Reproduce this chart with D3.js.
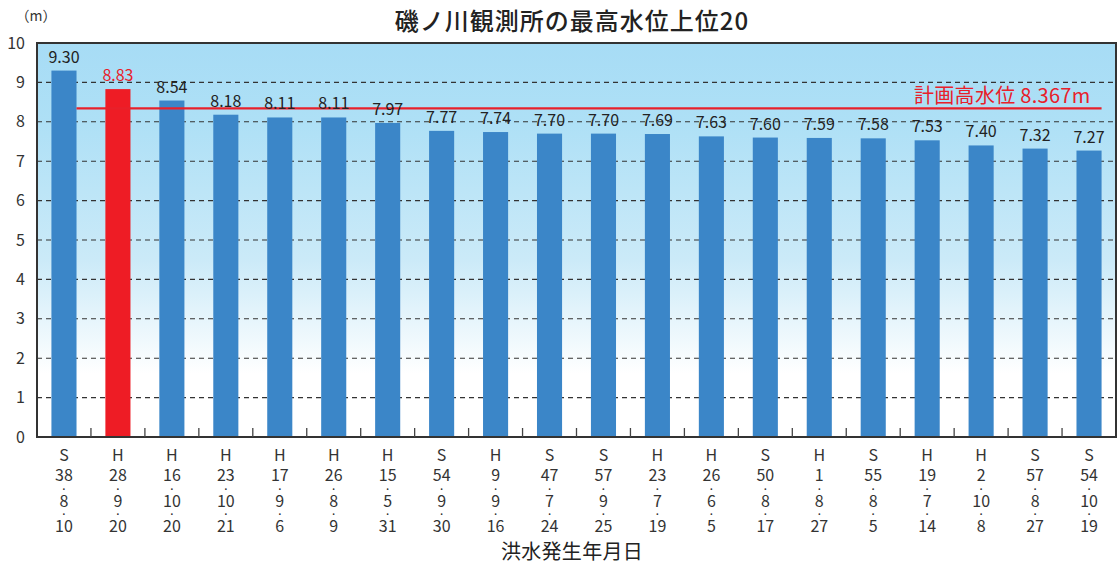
<!DOCTYPE html>
<html><head><meta charset="utf-8">
<script src="https://cdn.jsdelivr.net/npm/d3@7"></script>
<style>
html,body{margin:0;padding:0;background:#fff;}
svg{display:block;}
text{font-family:"Noto Sans CJK JP","Noto Sans",sans-serif;}
</style></head>
<body>
<svg id="chart" width="1120" height="565"></svg>
<script>
// ---- data ----
const eras   = ["S","H","H","H","H","H","H","S","H","S","S","H","H","S","H","S","H","H","S","S"];
const years  = ["38","28","16","23","17","26","15","54","9","47","57","23","26","50","1","55","19","2","57","54"];
const months = ["8","9","10","10","9","8","5","9","9","7","9","7","6","8","8","8","7","10","8","10"];
const days   = ["10","20","20","21","6","9","31","30","16","24","25","19","5","17","27","5","14","8","27","19"];
const values = [9.30,8.83,8.54,8.18,8.11,8.11,7.97,7.77,7.74,7.70,7.70,7.69,7.63,7.60,7.59,7.58,7.53,7.40,7.32,7.27];
const highlightIndex = 1;
const planLevel = 8.367;
const planLabel = "計画高水位 8.367m";
const yTicks = [0,1,2,3,4,5,6,7,8,9,10];
const title = "磯ノ川観測所の最高水位上位20";
const xTitle = "洪水発生年月日";
const yUnit = "（m）";

const svg = d3.select("#chart");
const L = 37, R = 1116, T = 43, B = 437;
const idx = d3.range(values.length);

const x = d3.scaleBand().domain(idx).range([L, R]).paddingInner(0.535).paddingOuter(0.2675);
const y = d3.scaleLinear().domain([0, 10]).range([B, T]);

// background gradient
const defs = svg.append("defs");
const grad = defs.append("linearGradient").attr("id","bg").attr("x1",0).attr("y1",0).attr("x2",0).attr("y2",1);
grad.append("stop").attr("offset","0%").attr("stop-color","#a7dcf5");
grad.append("stop").attr("offset","20%").attr("stop-color","#aee0f6");
grad.append("stop").attr("offset","55%").attr("stop-color","#cbeaf8");
grad.append("stop").attr("offset","84%").attr("stop-color","#ffffff");
grad.append("stop").attr("offset","100%").attr("stop-color","#ffffff");

svg.append("rect").attr("x", L).attr("y", T).attr("width", R - L).attr("height", B - T).attr("fill", "url(#bg)");

// gridlines
svg.append("g").selectAll("line").data(yTicks.filter(t => t > 0 && t < 10)).join("line")
  .attr("x1", L).attr("x2", R).attr("y1", d => y(d)).attr("y2", d => y(d))
  .attr("stroke", "#333").attr("stroke-width", 1.1).attr("stroke-dasharray", "5,4");

// bars
svg.append("g").selectAll("rect").data(idx).join("rect")
  .attr("x", i => x(i)).attr("width", x.bandwidth())
  .attr("y", i => y(values[i])).attr("height", i => B - y(values[i]))
  .attr("fill", i => i === highlightIndex ? "#ee1c25" : "#3b86c8");

// plan high water level line
svg.append("line")
  .attr("x1", x(0) + x.bandwidth()).attr("x2", x(values.length - 1) + x.bandwidth())
  .attr("y1", y(planLevel) + 1).attr("y2", y(planLevel) + 1)
  .attr("stroke", "#e8202a").attr("stroke-width", 2.2);
svg.append("text").attr("x", x(values.length - 1) + x.bandwidth() - 11).attr("y", y(planLevel) - 4)
  .attr("text-anchor", "end").attr("font-size", 20).attr("letter-spacing", 0.3).attr("fill", "#e8202a").text(planLabel);

// value labels
svg.append("g").selectAll("text").data(idx).join("text")
  .attr("x", i => x(i) + x.bandwidth() / 2).attr("y", i => y(values[i]) - 8)
  .attr("text-anchor", "middle").attr("font-size", 16)
  .attr("fill", i => i === highlightIndex ? "#e8202a" : "#222")
  .text(i => values[i].toFixed(2));

// frame
svg.append("rect").attr("x", L).attr("y", T).attr("width", R - L).attr("height", B - T)
  .attr("fill", "none").attr("stroke", "#333").attr("stroke-width", 2);

// category boundary ticks (inward)
svg.append("g").selectAll("line").data(d3.range(1, values.length)).join("line")
  .attr("x1", i => x(i) - x.step() * x.paddingInner() / 2).attr("x2", i => x(i) - x.step() * x.paddingInner() / 2)
  .attr("y1", B).attr("y2", B - 9).attr("stroke", "#444").attr("stroke-width", 1.3);

// y axis
const yAxis = d3.axisLeft(y).tickValues(yTicks).tickSize(0).tickPadding(12).tickFormat(d3.format("d"));
const gy = svg.append("g").attr("transform", `translate(${L},0)`).call(yAxis);
gy.select(".domain").remove();
gy.selectAll("text").attr("font-size", 16).attr("fill", "#333")
  .attr("font-family", '"Noto Sans CJK JP",sans-serif');

svg.append("text").attr("x", 36).attr("y", 21).attr("text-anchor", "middle").attr("font-size", 14).attr("fill", "#333").text(yUnit);

// x labels (stacked, one text element per category)
const xl = svg.append("g").selectAll("text").data(idx).join("text")
  .attr("text-anchor", "middle").attr("fill", "#333").attr("font-size", 16)
  .attr("font-family", '"Liberation Sans",Arial,sans-serif')
  .attr("transform", i => `translate(${x(i) + x.bandwidth() / 2},0)`);
const rows = [
  {get: i => eras[i], y: 461, fs: 16},
  {get: i => years[i], y: 480.5, fs: 16},
  {get: () => "•", y: 491, fs: 6.5},
  {get: i => months[i], y: 507, fs: 16},
  {get: () => "•", y: 516, fs: 6.5},
  {get: i => days[i], y: 531.5, fs: 16}
];
rows.forEach(r => {
  xl.append("tspan").attr("x", 0).attr("y", r.y).attr("font-size", r.fs).text(i => r.get(i));
});

// titles
svg.append("text").attr("x", 572).attr("y", 30).attr("text-anchor", "middle")
  .attr("font-size", 24).attr("font-weight", 500).attr("letter-spacing", 1).attr("fill", "#222").text(title);
svg.append("text").attr("x", 572).attr("y", 559).attr("text-anchor", "middle")
  .attr("font-size", 20).attr("letter-spacing", 0.3).attr("fill", "#222").text(xTitle);
</script>
</body></html>
